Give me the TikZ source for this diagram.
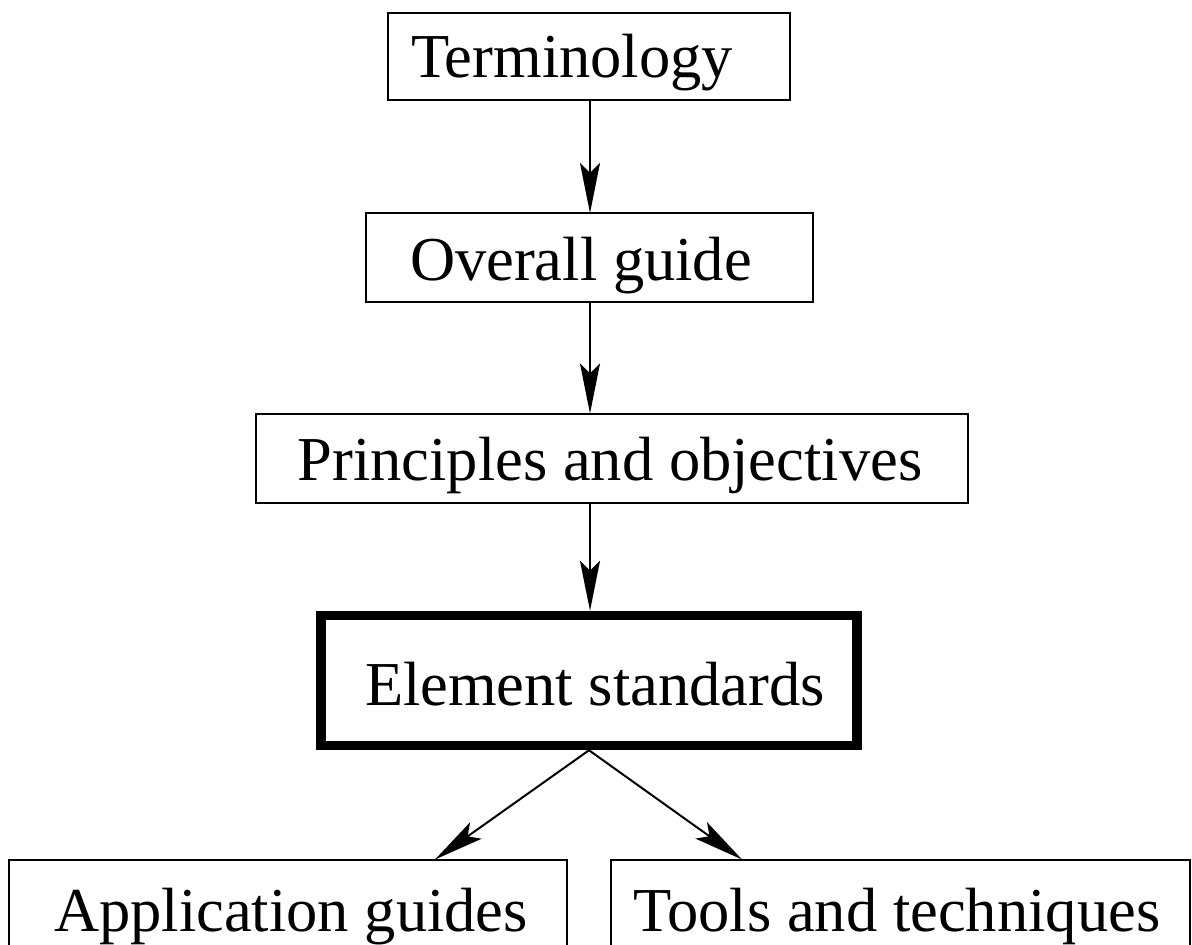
\documentclass[tikz,border=0pt]{standalone}
\usepackage{fontspec}
\setmainfont{Liberation Serif}
\usetikzlibrary{arrows.meta,calc}

\tikzset{
  box/.style={draw, line width=2pt, inner sep=0pt, outer sep=0pt, rectangle},
  heavybox/.style={box, line width=9.5pt},
  lbl/.style={anchor=base, inner sep=0pt, font=\fontsize{62.5}{72}\selectfont},
  flow/.style={draw, line width=2pt, -{Stealth[length=50pt, width=20pt, inset=10pt]}},
}

\begin{document}
\begin{tikzpicture}[x=1pt, y=-1pt]
  \useasboundingbox (0,0) rectangle (1192,945);
  \clip (0,0) rectangle (1192,945);

  % frames
  \node[box, minimum width=401.5pt, minimum height=87pt]   (term)    at (588.75,56.5)  {};
  \node[box, minimum width=446.5pt, minimum height=89pt]   (overall) at (589.25,257.5) {};
  \node[box, minimum width=712pt,   minimum height=89.5pt] (princ)   at (611.5,458.25) {};
  \node[heavybox, minimum width=536pt, minimum height=130pt] (elem)  at (589,680.5)    {};
  \node[box, minimum width=557.5pt, minimum height=88.5pt] (app)     at (287.75,903.75) {};
  \node[box, minimum width=579.5pt, minimum height=88.5pt] (tools)   at (900.25,903.75) {};

  % captions
  \node[lbl] (termT)    at (572,77)  {Terminology};
  \node[lbl] (overallT) at (581,280) {Overall guide};
  \node[lbl] (princT)   at (610,480) {Principles and objectives};
  \node[lbl] (elemT)    at (595,705) {Element standards};
  \node[lbl] (appT)     at (291,931) {Application guides};
  \node[lbl] (toolsT)   at (897,931) {Tools and techniques};

  % arrow ends on the lower frames
  \coordinate (appTip)   at ($(app.north west)+(426,0)$);
  \coordinate (toolsTip) at ($(tools.north west)+(131.5,0)$);
  \coordinate (elemOut)  at ($(elem.south)+(0,4.75)$);
  \coordinate (elemIn)   at ($(elem.north)+(1,-4.75)$);

  % connectors
  \draw[flow] (term.south -| 590,0) -- (overall.north -| 590,0);
  \draw[flow] (overall.south -| 590,0) -- (princ.north -| 590,0);
  \draw[flow] (princ.south -| 590,0) -- (elemIn);
  \draw[flow] (elemOut) -- (appTip);
  \draw[flow] (elemOut) -- (toolsTip);
\end{tikzpicture}
\end{document}
